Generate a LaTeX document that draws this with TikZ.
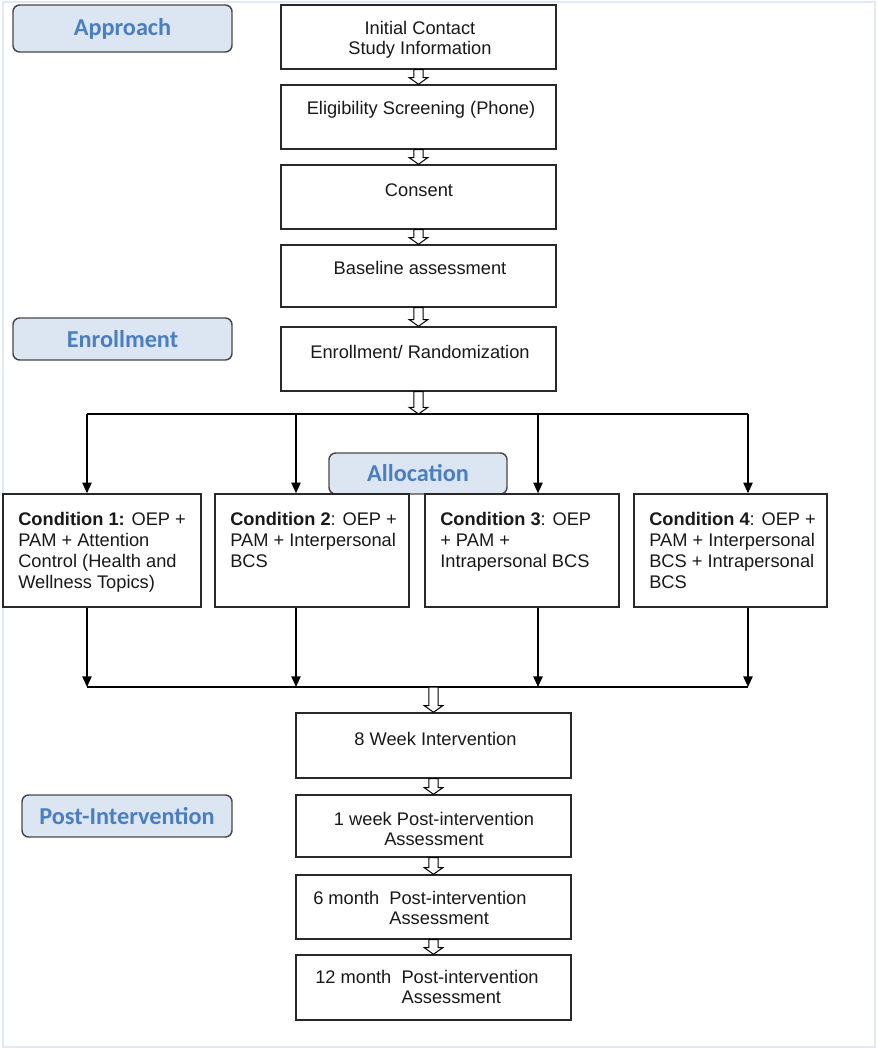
\documentclass[tikz,border=0pt]{standalone}
\usepackage{fontspec}
\setmainfont{Liberation Sans}
\newfontfamily\labfont{Carlito}
\usetikzlibrary{calc,fit,arrows.meta}
\definecolor{labfill}{RGB}{220,230,242}
\definecolor{labtext}{RGB}{74,126,193}
\definecolor{framecol}{RGB}{224,233,245}
\definecolor{edgecol}{RGB}{40,40,40}
\newcommand\hollowdown[2]{%
  \path[hollow] let \p1=(#1), \p2=(#2) in
   ({\x2-3.4pt},{\y1}) -- ({\x2-3.4pt},{\y2+5pt}) -- ({\x2-7pt},{\y2+5pt}) -- (\x2,\y2)
   -- ({\x2+7pt},{\y2+5pt}) -- ({\x2+3.4pt},{\y2+5pt}) -- ({\x2+3.4pt},{\y1}) -- cycle;}
\tikzset{
  stepbox/.style={draw=edgecol, line width=1.1pt, inner sep=0pt, fill=white},
  btext/.style={align=center, inner sep=0pt, font=\fontsize{13.7}{15}\selectfont, text=black!90},
  ltext/.style={align=left, inner sep=0pt, font=\fontsize{13.7}{15}\selectfont, text=black!90},
  ctext/.style={align=left, inner sep=0pt, font=\fontsize{13.7}{15.75}\selectfont, text=black!90, anchor=north west},
  phase/.style={draw=edgecol!85, line width=1.1pt, rounded corners=5pt, fill=labfill,
    font=\labfont\bfseries\fontsize{18.2}{20}\selectfont, text=labtext, inner sep=0pt},
  arr/.style={draw=black, line width=1.1pt, -{Triangle[width=7pt,length=8pt]}},
  busline/.style={draw=black, line width=1.1pt},
  hollow/.style={draw=black, line width=0.75pt, fill=white},
}
\begin{document}
\begin{tikzpicture}[x=0.75pt,y=-0.75pt]
\useasboundingbox (0,0) rectangle (877,1050);
\draw[framecol, line width=1.6pt] (3,2) rectangle (875,1047);

% phase labels
\node[phase, minimum width=164.25pt, minimum height=35.25pt] (lapp) at (122.5,28.5) {Approach};
\node[phase, minimum width=164.25pt, minimum height=31.5pt] (lenr) at (122.5,339) {Enrollment};
\node[phase, minimum width=133.5pt, minimum height=30.75pt] (lall) at (418,473.5) {Allocation};
\node[phase, minimum width=157.5pt, minimum height=31.5pt] (lpost) at (127,816) {Post-Intervention};

% main column boxes
\node[stepbox, fit={(281,5) (556,69)}] (b1) {};
\node[stepbox, fit={(281,85) (556,149)}] (b2) {};
\node[stepbox, fit={(281,165) (556,229)}] (b3) {};
\node[stepbox, fit={(281,245) (556,307)}] (b4) {};
\node[stepbox, fit={(281,327) (556,391)}] (b5) {};
\node[btext] (tb1) at (420,40) {Initial Contact\\Study Information};
\node[btext] (tb2) at (421,110) {Eligibility Screening (Phone)};
\node[btext] (tb3) at (419,190) {Consent};
\node[btext] (tb4) at (420,268) {Baseline assessment};
\node[btext] (tb5) at (420,352) {Enrollment/ Randomization};

% condition boxes
\node[stepbox, fit={(3,494) (201,607)}] (c1) {};
\node[stepbox, fit={(215,494) (409,607)}] (c2) {};
\node[stepbox, fit={(425,494) (619,607)}] (c3) {};
\node[stepbox, fit={(634,494) (827,607)}] (c4) {};
\node[ctext] (tc1) at (18,512) {\textbf{Condition 1:} OEP +\\PAM + Attention\\Control (Health and\\Wellness Topics)};
\node[ctext] (tc2) at (230,512) {\textbf{Condition 2}: OEP +\\PAM + Interpersonal\\BCS};
\node[ctext] (tc3) at (440,512) {\textbf{Condition 3}: OEP\\+ PAM +\\Intrapersonal BCS};
\node[ctext] (tc4) at (649,512) {\textbf{Condition 4}: OEP +\\PAM + Interpersonal\\BCS + Intrapersonal\\BCS};

% lower boxes
\node[stepbox, fit={(296,713) (571,778)}] (d1) {};
\node[stepbox, fit={(296,795) (571,857)}] (d2) {};
\node[stepbox, fit={(296,875) (571,939)}] (d3) {};
\node[stepbox, fit={(296,955) (571,1020)}] (d4) {};
\node[btext] (td1) at (435.5,739) {8 Week Intervention};
\node[btext] (td2) at (434,829) {1 week Post-intervention\\Assessment};
\node[ltext, anchor=west] (td3) at (313,908) {6 month\ \ Post-intervention\\\phantom{6 month\ \ }Assessment};
\node[ltext, anchor=west] (td4) at (315,987) {12 month\ \ Post-intervention\\\phantom{12 month\ \ }Assessment};

% hollow arrows in the main column
\hollowdown{b1.south}{b2.north}
\hollowdown{b2.south}{b3.north}
\hollowdown{b3.south}{b4.north}
\hollowdown{b4.south}{b5.north}

% top distribution bus
\coordinate (t1) at (87,414);
\coordinate (t2) at (296,414);
\coordinate (t3) at (538,414);
\coordinate (t4) at (748,414);
\coordinate (t0) at (b5.south |- t1);
\draw[busline] (t1) -- (t4);
\hollowdown{b5.south}{t0}
\draw[arr] (t1) -- (t1 |- c1.north);
\draw[arr] (t2) -- (t2 |- c2.north);
\draw[arr] (t3) -- (t3 |- c3.north);
\draw[arr] (t4) -- (t4 |- c4.north);

% bottom collection bus
\coordinate (s1) at (87,687);
\coordinate (s2) at (296,687);
\coordinate (s3) at (538,687);
\coordinate (s4) at (748,687);
\coordinate (s0) at (d1.north |- s1);
\draw[arr] (s1 |- c1.south) -- (s1);
\draw[arr] (s2 |- c2.south) -- (s2);
\draw[arr] (s3 |- c3.south) -- (s3);
\draw[arr] (s4 |- c4.south) -- (s4);
\draw[busline] (s1) -- (s4);
\hollowdown{s0}{d1.north}

\hollowdown{d1.south}{d2.north}
\hollowdown{d2.south}{d3.north}
\hollowdown{d3.south}{d4.north}
\end{tikzpicture}
\end{document}
